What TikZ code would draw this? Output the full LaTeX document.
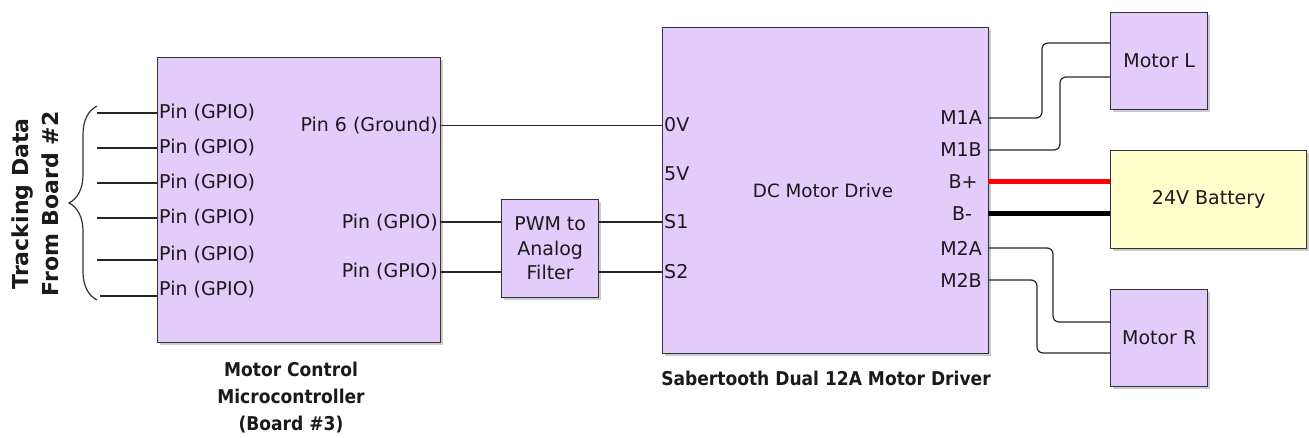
\documentclass[tikz,border=0pt]{standalone}
\usepackage{fontspec}
\setmainfont{DejaVu Sans}
\newfontfamily\capfont{DejaVu Sans Condensed}[BoldFont={DejaVu Sans Condensed Bold}]
\usetikzlibrary{shadows,decorations.pathreplacing}
\definecolor{lav}{HTML}{E2CCFB}
\definecolor{batt}{HTML}{FFFFCC}
\definecolor{edge}{HTML}{333333}
\definecolor{wirec}{HTML}{262626}
\definecolor{txt}{HTML}{1A1A1A}
\begin{document}
\begin{tikzpicture}[x=1pt,y=-1pt,
  font=\fontsize{19}{24.5}\selectfont, text=txt,
  box/.style={draw=edge, line width=1.4pt, fill=lav, inner sep=0pt, anchor=north west, align=center,
    drop shadow={shadow xshift=2.5pt, shadow yshift=-2.5pt, fill=black, opacity=0.2}},
  wire/.style={draw=wirec, line width=1.2pt, rounded corners=6pt},
  lbl/.style={inner sep=2pt},
  captxt/.style={font=\capfont\bfseries\fontsize{19}{27}\selectfont, align=center}]
\useasboundingbox (0,0) rectangle (1309,438);

% boxes
\node[box, minimum width=283pt, minimum height=285pt] (mcu) at (157,57) {};
\node[box, minimum width=97pt, minimum height=98pt] (filt) at (501,199) {PWM to\\Analog\\Filter};
\node[box, minimum width=326pt, minimum height=326pt] (drv) at (662,27) {};
\node[box, minimum width=97pt, minimum height=97pt] (motL) at (1110,12) {Motor L};
\node[box, minimum width=196pt, minimum height=98pt, fill=batt] (bat) at (1110,150) {24V Battery};
\node[box, minimum width=97pt, minimum height=97pt] (motR) at (1110,289) {Motor R};

\node[font=\fontsize{18.3}{21}\selectfont] (dcm) at (823,191) {DC Motor Drive};

% captions
\node[captxt] (capmcu) at (291,398) {Motor Control\\Microcontroller\\(Board \#3)};
\node[captxt] (capdrv) at (826,378) {Sabertooth Dual 12A Motor Driver};
\node[font=\bfseries\fontsize{22}{30}\selectfont, rotate=90, align=center] (track) at (35,204) {Tracking Data\\From Board \#2};

% left pins of MCU
\foreach \i/\ly/\wy/\sx in {1/113/113/97, 2/148/148/97, 3/183/183/97, 4/218/218/97, 5/255/260/97, 6/290/296/100} {
  \node[lbl, anchor=west] (lp\i) at (157,\ly) {Pin (GPIO)};
  \coordinate (lpa\i) at (\sx,\wy);
  \coordinate (lpb\i) at (157,\wy);
  \draw[wire] (lpa\i) -- (lpb\i);
}
\coordinate (brtop) at (97,106);
\coordinate (brbot) at (97,300);
\draw[draw=edge, line width=1.2pt, decorate, decoration={brace, amplitude=28pt}] (brbot) -- (brtop);

% right pins of MCU
\node[lbl, anchor=east] (gnd) at (440,125.5) {Pin 6 (Ground)};
\node[lbl, anchor=east] (rp1) at (440,223) {Pin (GPIO)};
\node[lbl, anchor=east] (rp2) at (440,272) {Pin (GPIO)};

% driver pins
\node[lbl, anchor=west] (d0v) at (662,125) {0V};
\node[lbl, anchor=west] (d5v) at (662,174) {5V};
\node[lbl, anchor=west] (ds1) at (662,222) {S1};
\node[lbl, anchor=west] (ds2) at (662,272) {S2};
\node[lbl] (m1a) at (961,118) {M1A};
\node[lbl] (m1b) at (961,150) {M1B};
\node[lbl] (bp) at (963,182) {B+};
\node[lbl] (bm) at (962,214) {B-};
\node[lbl] (m2a) at (961,248) {M2A};
\node[lbl] (m2b) at (961,280) {M2B};

% wires MCU -> filter -> driver
\draw[wire] (mcu.east |- gnd) -- (drv.west |- gnd);
\coordinate (w1) at (440,222);
\coordinate (w2) at (440,272);
\draw[wire] (w1) -- (filt.west |- w1);
\draw[wire] (w2) -- (filt.west |- w2);
\draw[wire] (filt.east |- w1) -- (drv.west |- w1);
\draw[wire] (filt.east |- w2) -- (drv.west |- w2);

% driver -> motors / battery
\coordinate (pa) at (988,118);
\coordinate (pb) at (988,150);
\coordinate (pc) at (988,248);
\coordinate (pd) at (988,280);
\coordinate (la) at (1110,43);
\coordinate (lb) at (1110,77);
\coordinate (ra) at (1110,322);
\coordinate (rb) at (1110,353);
\draw[wire] (pa) -- (1042,118) -- (1042,43) -- (la);
\draw[wire] (pb) -- (1060,150) -- (1060,77) -- (lb);
\draw[wire] (pc) -- (1053,248) -- (1053,322) -- (ra);
\draw[wire] (pd) -- (1037,280) -- (1037,353) -- (rb);
\coordinate (bpa) at (988,182);
\coordinate (bma) at (988,214);
\draw[red, line width=5pt] (bpa) -- (bat.west |- bpa);
\draw[black, line width=5pt] (bma) -- (bat.west |- bma);
\end{tikzpicture}
\end{document}
